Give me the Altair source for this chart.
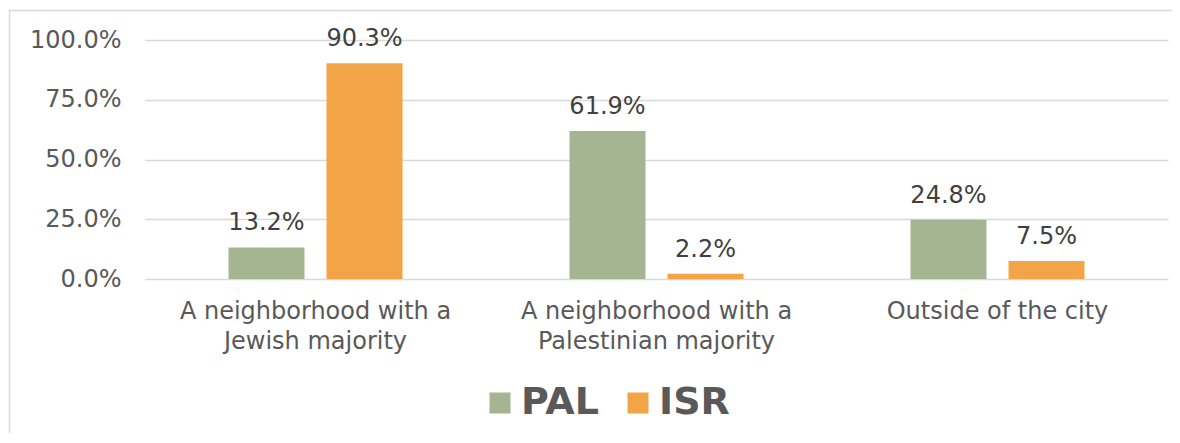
import altair as alt
import pandas as pd

categories = [
    "A neighborhood with a\nJewish majority",
    "A neighborhood with a\nPalestinian majority",
    "Outside of the city",
]
series = ["PAL", "ISR"]
pal_values = [13.2, 61.9, 24.8]
isr_values = [90.3, 2.2, 7.5]
colors = ["#A5B592", "#F3A447"]
y_ticks = [0, 25, 50, 75, 100]

rows = []
for c, p, i in zip(categories, pal_values, isr_values):
    rows.append({"category": c, "group": "PAL", "value": p})
    rows.append({"category": c, "group": "ISR", "value": i})
df = pd.DataFrame(rows)

FONT = "DejaVu Sans"

x_enc = alt.X(
    "category:N",
    sort=categories,
    scale=alt.Scale(paddingInner=0, paddingOuter=0),
    axis=alt.Axis(
        title=None,
        labelExpr="split(datum.label, '\\n')",
        labelAngle=0,
        labelLimit=0,
        domain=False,
        ticks=False,
        labelFontSize=24,
        labelLineHeight=30,
        labelPadding=20,
        labelColor="#595959",
        labelFont=FONT,
    ),
)
xoff_enc = alt.XOffset(
    "group:N", sort=series, scale=alt.Scale(paddingInner=0.2245, paddingOuter=0.852)
)
y_enc = alt.Y(
    "value:Q",
    scale=alt.Scale(domain=[0, 100]),
    axis=alt.Axis(
        values=y_ticks,
        labelExpr="format(datum.value, '.1f') + '%'",
        title=None,
        domain=False,
        ticks=False,
        grid=True,
        gridColor="#d9d9d9",
        gridWidth=1.5,
        labelPadding=24,
        labelFontSize=24,
        labelColor="#595959",
        labelFont=FONT,
    ),
)

frame = alt.Chart(pd.DataFrame({"a": [0]})).mark_rect(
    fillOpacity=0, stroke="#d9d9d9", strokeWidth=1.5
).encode(
    x=alt.value(-135.5), x2=alt.value(1200), y=alt.value(-29.5), y2=alt.value(420)
)

bars = alt.Chart(df).mark_bar().encode(
    x=x_enc,
    xOffset=xoff_enc,
    y=y_enc,
    color=alt.Color(
        "group:N",
        sort=series,
        scale=alt.Scale(domain=series, range=colors),
        legend=alt.Legend(
            title=None,
            orient="none",
            direction="horizontal",
            legendX=336,
            legendY=344,
            symbolType="square",
            symbolSize=441,
            symbolStrokeWidth=0,
            symbolOpacity=1,
            labelFont=FONT,
            labelFontSize=38,
            labelFontWeight="bold",
            labelColor="#595959",
            labelOffset=2,
            columnPadding=20,
        ),
    ),
)

labels = alt.Chart(df).transform_calculate(
    txt="format(datum.value, '.1f') + '%'"
).mark_text(
    dy=-17, baseline="alphabetic", fontSize=24, font=FONT, color="#404040"
).encode(
    x=alt.X("category:N", sort=categories),
    xOffset=alt.XOffset("group:N", sort=series),
    y=alt.Y("value:Q"),
    text="txt:N",
)

chart = alt.layer(frame, bars, labels).properties(
    width=1023,
    height=239,
    padding={"left": 137, "top": 32, "right": 4, "bottom": 154},
    autosize=alt.AutoSizeParams(type="none"),
).configure_view(stroke=None)

chart.save("out.html", embed_options={"renderer": "svg", "actions": False})
